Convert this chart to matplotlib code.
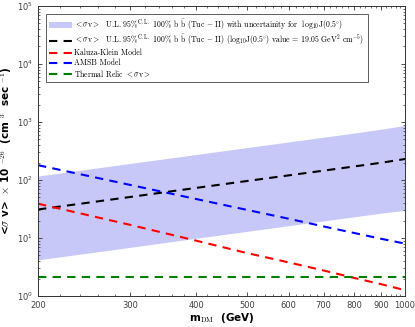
import numpy as np
import matplotlib
matplotlib.use("Agg")
import matplotlib.pyplot as plt
from matplotlib.ticker import FixedLocator, NullFormatter, LogLocator

plt.rcParams['mathtext.fontset'] = 'cm'
plt.rcParams['axes.formatter.use_mathtext'] = True

mass = [200, 300, 400, 500, 600, 700, 800, 900, 1000]
ul_central = [31, 51, 73, 96, 120, 145, 171, 198, 230]
band_upper = [117, 193, 275, 362, 452, 547, 645, 750, 870]
band_lower = [4.2, 6.9, 9.9, 13.0, 16.3, 19.7, 23.2, 26.8, 30]
kk_model = [39, 16.8, 9.0, 5.5, 3.8, 2.75, 2.05, 1.6, 1.26]
amsb_model = [180, 82, 47, 30.5, 21.5, 15.8, 12.2, 9.7, 8.0]
thermal = [2.15, 2.15, 2.15, 2.15, 2.15, 2.15, 2.15, 2.15, 2.15]
xticks = [200, 300, 400, 500, 600, 700, 800, 900, 1000]

labels = [
    r"$<\sigma{\rm v}>$  U.L. 95%$^{\rm C.L.}$ 100% b $\bar{\rm b}$ (Tuc $-$ II) with uncertainity for  log$_{10}$J(0.5$^{\circ}$)",
    r"$<\sigma{\rm v}>$  U.L. 95%$^{\rm C.L.}$ 100% b $\bar{\rm b}$ (Tuc $-$ II) (log$_{10}$J(0.5$^{\circ}$) value = 19.05 GeV$^2$ cm$^{-5}$)",
    "Kaluza-Klein Model",
    "AMSB Model",
    r"Thermal Relic $<\sigma{\rm v}>$",
]

fig = plt.figure(figsize=(4.15, 3.27), dpi=100)
ax = fig.add_axes([0.0916, 0.0948, 0.8844, 0.887])

ax.fill_between(mass, band_lower, band_upper, color='#c8c8f8', lw=0, label=labels[0])
ax.plot(mass, ul_central, '--', color='black', lw=1.5, dashes=(4, 3), label=labels[1])
ax.plot(mass, kk_model, '--', color='red', lw=1.5, dashes=(4, 3), label=labels[2])
ax.plot(mass, amsb_model, '--', color='blue', lw=1.5, dashes=(4, 3), label=labels[3])
ax.plot(mass, thermal, '--', color='green', lw=1.5, dashes=(4, 3), label=labels[4])

ax.set_xscale('log')
ax.set_yscale('log')
ax.set_xlim(200, 1000)
ax.set_ylim(1, 1e5)
ax.xaxis.set_major_locator(FixedLocator(xticks))
ax.set_xticklabels([str(v) for v in xticks])
ax.xaxis.set_minor_locator(FixedLocator(list(range(200, 1001, 20))))
ax.xaxis.set_minor_formatter(NullFormatter())
ax.yaxis.set_major_locator(LogLocator(base=10, numticks=10))
ax.yaxis.set_minor_locator(LogLocator(base=10, subs=np.arange(2, 10), numticks=20))
ax.yaxis.set_minor_formatter(NullFormatter())
ax.tick_params(which='both', direction='in', top=True, right=True, labelsize=6, colors='#333333', labelcolor='#404040')
ax.tick_params(which='major', length=3, width=0.6)
ax.tick_params(which='minor', length=1.5, width=0.5)
for s in ax.spines.values():
    s.set_color('#333333')
    s.set_linewidth(0.7)

ax.set_xlabel(r"m$_{\rm DM}$  (GeV)", fontsize=7.5, fontweight='bold', labelpad=1)
ax.set_ylabel(r"<$\sigma$ v>  $\times$ 10 $^{-26}$  (cm $^{3}$  sec $^{-1}$)", fontsize=7.5, fontweight='bold', labelpad=2)

leg = ax.legend(loc='upper left', bbox_to_anchor=(0.01, 0.985),
                prop={'family': ['cmr10', 'DejaVu Serif'], 'size': 5.6}, frameon=True, fancybox=False,
                edgecolor='#333333', handlelength=3.0, handletextpad=0.3,
                labelspacing=0.2, borderpad=0.4)
leg.get_frame().set_linewidth(0.7)

fig.savefig('out.png', dpi=100)
